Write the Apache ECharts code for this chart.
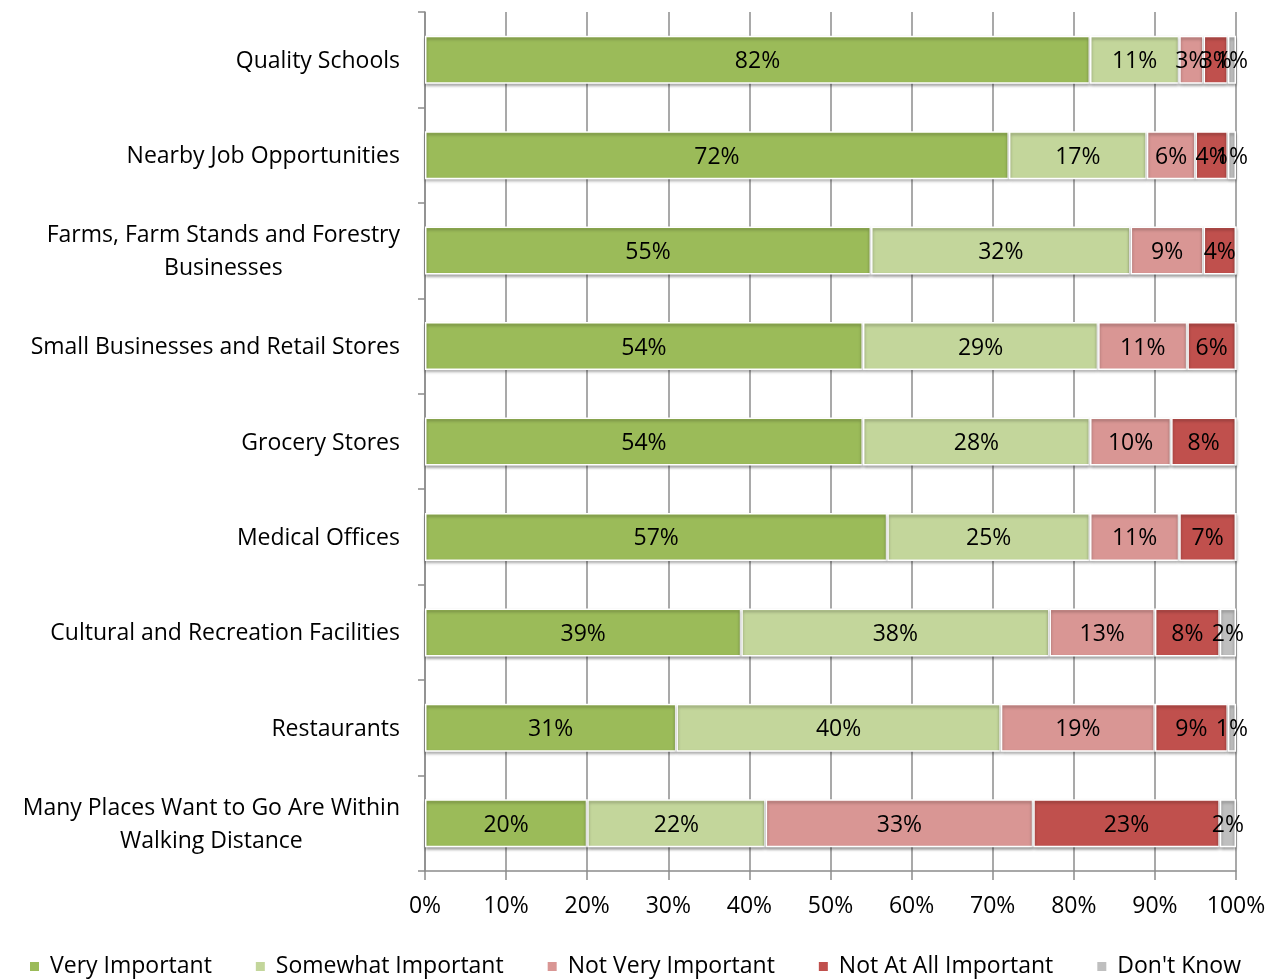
<!DOCTYPE html>
<html>
<head>
<meta charset="utf-8">
<script src="https://cdn.jsdelivr.net/npm/echarts@6/dist/echarts.min.js"></script>
<style>
html,body{margin:0;padding:0;background:#fff;}
#c{width:1277px;height:980px;}
</style>
</head>
<body>
<div id="c"></div>
<script>
const categories = [
  "Quality Schools",
  "Nearby Job Opportunities",
  "Farms, Farm Stands and Forestry\nBusinesses",
  "Small Businesses and Retail Stores",
  "Grocery Stores",
  "Medical Offices",
  "Cultural and Recreation Facilities",
  "Restaurants",
  "Many Places Want to Go Are Within\nWalking Distance"
];
const veryImportant     = [82, 72, 55, 54, 54, 57, 39, 31, 20];
const somewhatImportant = [11, 17, 32, 29, 28, 25, 38, 40, 22];
const notVeryImportant  = [3, 6, 9, 11, 10, 11, 13, 19, 33];
const notAtAllImportant = [3, 4, 4, 6, 8, 7, 8, 9, 23];
const dontKnow          = [1, 1, 0, 0, 0, 0, 2, 1, 2];
const xTicks = [0, 10, 20, 30, 40, 50, 60, 70, 80, 90, 100];

const seriesDefs = [
  ["Very Important", veryImportant, "#9BBB59"],
  ["Somewhat Important", somewhatImportant, "#C3D69B"],
  ["Not Very Important", notVeryImportant, "#D99694"],
  ["Not At All Important", notAtAllImportant, "#C0504D"],
  ["Don't Know", dontKnow, "#BFBFBF"]
];
const FONT = "Open Sans";
const FS = 23;
const chart = echarts.init(document.getElementById('c'));
chart.setOption({
  animation: false,
  textStyle: { fontFamily: FONT },
  grid: { left: 425, right: 41, top: 12, bottom: 109, containLabel: false },
  legend: {
    top: 955, left: 28, padding: 0,
    itemWidth: 11, itemHeight: 11, itemGap: 42,
    icon: 'rect',
    textStyle: { fontFamily: FONT, fontSize: FS, color: '#000', padding: [0, 0, 0, 5] },
    data: seriesDefs.map(s => s[0])
  },
  xAxis: {
    type: 'value', min: 0, max: 100, interval: 10,
    axisLine: { show: true, lineStyle: { color: '#8c8c8c', width: 1.5 } },
    axisTick: { show: true, length: 9, lineStyle: { color: '#8c8c8c', width: 1.5 } },
    splitLine: { show: true, lineStyle: { color: '#8c8c8c', width: 1.5 } },
    axisLabel: { formatter: v => xTicks.includes(v) ? v + '%' : '', fontFamily: FONT, fontSize: FS, color: '#000', margin: 24 }
  },
  yAxis: {
    type: 'category', inverse: true, data: categories,
    axisLine: { show: true, lineStyle: { color: '#8c8c8c', width: 1.5 } },
    axisTick: { show: true, length: 7, lineStyle: { color: '#8c8c8c', width: 1.5 } },
    splitLine: { show: false },
    axisLabel: {
      margin: 25, fontFamily: FONT, fontSize: FS, color: '#000', lineHeight: 33,
      formatter: v => v.split('\n').map(l => '{c|' + l + '}').join('\n'),
      rich: { c: { align: 'center', fontFamily: FONT, fontSize: FS, color: '#000', lineHeight: 33, padding: [3, 0, 0, 0] } }
    }
  },
  series: seriesDefs.map(([name, data, color]) => ({
    name, type: 'bar', stack: 'total', data,
    barWidth: 48,
    itemStyle: {
      color, borderColor: '#fff', borderWidth: 1.5,
      shadowColor: 'rgba(0,0,0,0.35)', shadowBlur: 3, shadowOffsetY: 2
    },
    label: {
      show: true, position: 'inside', color: '#000', fontFamily: FONT, fontSize: FS,
      textBorderWidth: 0, offset: [0, 2],
      formatter: p => p.value > 0 ? p.value + '%' : ''
    }
  }))
});
</script>
</body>
</html>
